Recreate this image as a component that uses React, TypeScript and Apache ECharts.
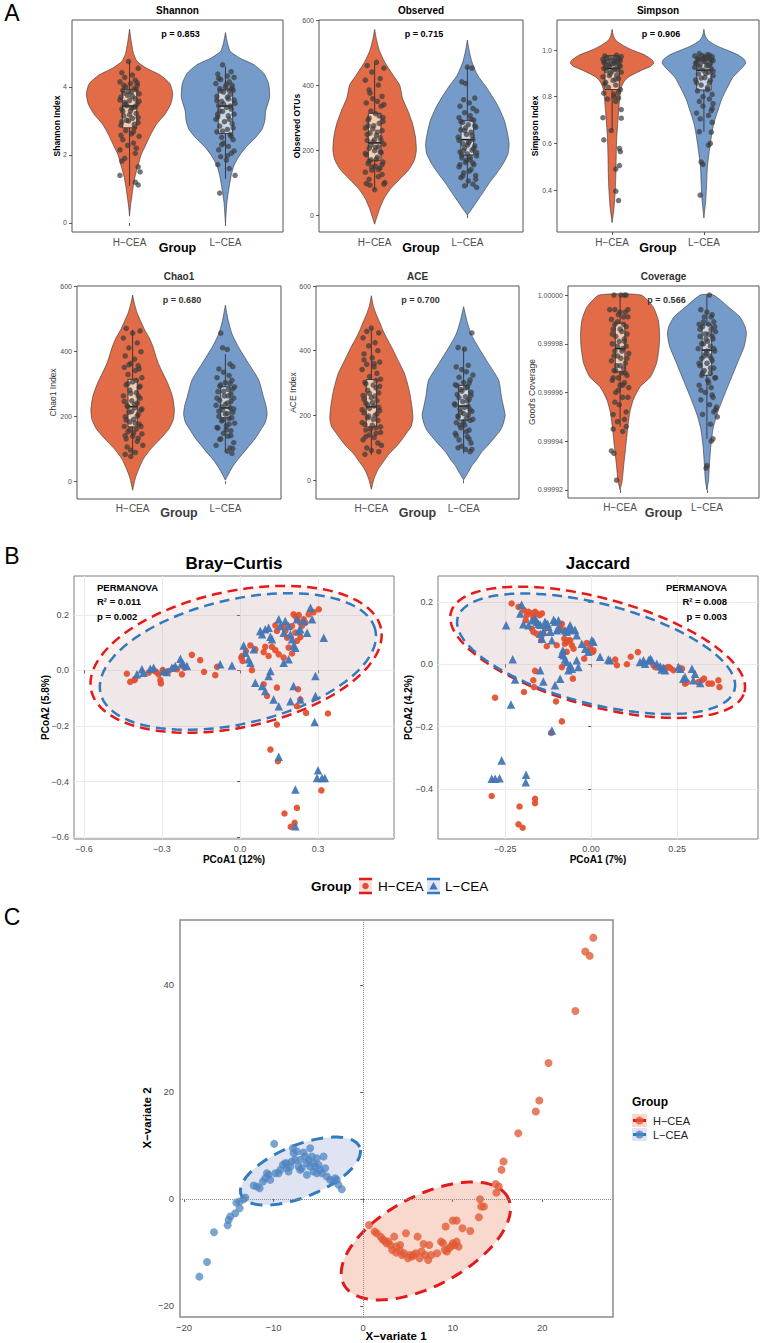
import React, { useEffect, useRef } from "react";
import * as echarts from "echarts";

type P = [number, number];

const FONT = '"Liberation Sans", Arial, Helvetica, sans-serif';

// ---------- Panel A : alpha diversity ----------
const categories = ["H−CEA", "L−CEA"];
const metricTitles = ["Shannon", "Observed", "Simpson", "Chao1", "ACE", "Coverage"];
const metricYNames = ["Shannon Index", "Observed OTUs", "Simpson Index", "Chao1 Index", "ACE Index", "Good's Coverage"];
const pValues = ["p = 0.853", "p = 0.715", "p = 0.906", "p = 0.680", "p = 0.700", "p = 0.566"];

const shannonTicks = [0, 2, 4];
const observedTicks = [0, 200, 400, 600];
const simpsonTicks = [0.4, 0.6, 0.8, 1.0];
const chao1Ticks = [0, 200, 400, 600];
const aceTicks = [0, 200, 400, 600];
const coverageTicks = [0.99992, 0.99994, 0.99996, 0.99998, 1.0];

// violin outlines: [value, half width in category units]
const shannonViolinH: P[] = [[5.7,0],[5.3,0.02],[5.0,0.04],[4.75,0.08],[4.55,0.18],[4.35,0.32],[4.1,0.42],[3.8,0.45],[3.5,0.43],[3.2,0.37],[2.9,0.28],[2.6,0.22],[2.3,0.17],[2.0,0.12],[1.7,0.09],[1.4,0.06],[1.1,0.04],[0.8,0.025],[0.5,0.01],[0.2,0]];
const shannonViolinL: P[] = [[5.6,0],[5.3,0.02],[5.05,0.05],[4.85,0.15],[4.65,0.3],[4.4,0.4],[4.1,0.45],[3.7,0.46],[3.3,0.42],[3.0,0.41],[2.75,0.38],[2.5,0.31],[2.25,0.22],[2.0,0.15],[1.7,0.09],[1.4,0.06],[1.0,0.035],[0.6,0.015],[0.0,0]];
const observedViolinH: P[] = [[571,0],[540,0.02],[507,0.05],[470,0.11],[430,0.2],[400,0.27],[360,0.3],[320,0.36],[280,0.41],[240,0.44],[200,0.45],[170,0.43],[140,0.37],[110,0.27],[80,0.17],[50,0.1],[20,0.055],[-10,0.02],[-28,0]];
const observedViolinL: P[] = [[538,0],[505,0.02],[470,0.05],[430,0.11],[395,0.2],[360,0.28],[330,0.34],[290,0.4],[255,0.43],[220,0.45],[190,0.44],[160,0.39],[130,0.32],[100,0.24],[70,0.17],[45,0.11],[20,0.05],[0,0]];
const simpsonViolinH: P[] = [[1.089,0],[1.06,0.015],[1.04,0.045],[1.02,0.12],[1.0,0.22],[0.98,0.35],[0.96,0.43],[0.945,0.455],[0.93,0.42],[0.915,0.33],[0.9,0.25],[0.885,0.18],[0.87,0.14],[0.85,0.11],[0.82,0.09],[0.78,0.08],[0.73,0.07],[0.68,0.06],[0.62,0.05],[0.55,0.045],[0.48,0.042],[0.42,0.037],[0.37,0.03],[0.32,0.02],[0.26,0]];
const simpsonViolinL: P[] = [[1.089,0],[1.06,0.015],[1.04,0.05],[1.02,0.13],[1.0,0.25],[0.98,0.37],[0.96,0.44],[0.945,0.455],[0.93,0.43],[0.91,0.38],[0.88,0.31],[0.85,0.27],[0.82,0.23],[0.786,0.19],[0.75,0.16],[0.714,0.13],[0.68,0.105],[0.643,0.087],[0.6,0.07],[0.571,0.06],[0.5,0.038],[0.43,0.03],[0.357,0.02],[0.28,0]];
const chao1ViolinH: P[] = [[572,0],[545,0.02],[516,0.05],[490,0.09],[465,0.13],[440,0.18],[413,0.22],[385,0.25],[360,0.28],[330,0.33],[300,0.38],[260,0.43],[220,0.45],[190,0.44],[160,0.39],[130,0.3],[100,0.2],[70,0.12],[40,0.07],[10,0.03],[-28,0]];
const chao1ViolinL: P[] = [[541,0],[495,0.03],[454,0.07],[413,0.14],[362,0.25],[311,0.36],[260,0.41],[230,0.44],[205,0.45],[180,0.43],[157,0.38],[130,0.32],[106,0.25],[85,0.19],[65,0.13],[45,0.08],[25,0.04],[3,0]];
const aceViolinH: P[] = [[570,0],[540,0.02],[514,0.05],[488,0.09],[463,0.125],[437,0.17],[411,0.22],[370,0.29],[329,0.36],[278,0.41],[227,0.44],[191,0.45],[165,0.43],[145,0.38],[125,0.33],[104,0.27],[84,0.2],[63,0.145],[32,0.07],[1,0.025],[-28,0]];
const aceViolinL: P[] = [[536,0],[493,0.035],[452,0.08],[411,0.16],[360,0.27],[309,0.38],[257,0.41],[230,0.43],[201,0.45],[175,0.43],[155,0.4],[130,0.33],[104,0.25],[85,0.19],[63,0.14],[45,0.09],[32,0.065],[15,0.03],[1,0]];
const coverageViolinH: P[] = [[1.0,0.24],[0.9999952,0.38],[0.9999897,0.44],[0.9999842,0.455],[0.9999788,0.45],[0.999972,0.42],[0.9999664,0.35],[0.9999623,0.23],[0.9999568,0.15],[0.9999514,0.11],[0.9999445,0.085],[0.9999377,0.065],[0.9999295,0.04],[0.999924,0.025],[0.99992,0]];
const coverageViolinL: P[] = [[1.0,0.075],[0.999995,0.25],[0.999991,0.38],[0.999987,0.44],[0.999984,0.455],[0.999979,0.43],[0.999972,0.35],[0.999965,0.27],[0.999958,0.19],[0.999951,0.115],[0.999945,0.07],[0.999938,0.045],[0.999931,0.03],[0.999924,0.018],[0.99992,0]];

// boxes: [lower whisker, q1, median, q3, upper whisker]
const shannonBoxH = [1.1, 2.8, 3.44, 3.93, 4.75];
const shannonBoxL = [1.3, 2.63, 3.44, 3.91, 4.6];
const observedBoxH = [77, 169, 222, 313, 466];
const observedBoxL = [88, 185, 232, 290, 455];
const simpsonBoxH = [0.657, 0.831, 0.921, 0.975, 0.98];
const simpsonBoxL = [0.65, 0.829, 0.914, 0.957, 0.985];
const chao1BoxH = [80, 167, 229, 313, 465];
const chao1BoxL = [90, 195, 225, 290, 390];
const aceBoxH = [78, 165, 227, 311, 468];
const aceBoxL = [83, 186, 229, 293, 411];
const coverageBoxH = [0.999946, 0.9999685, 0.999978, 0.9999884, 1.0];
const coverageBoxL = [0.999941, 0.9999671, 0.9999774, 0.9999877, 1.0];

// jittered samples: [horizontal jitter, value]
const shannonPointsH: P[] = [[-0.01,4.75],[0.09,4.55],[-0.08,4.42],[0.03,4.35],[-0.05,4.28],[0.06,4.2],[-0.1,4.15],[0.01,4.1],[0.08,4.05],[-0.04,4.0],[0.05,3.95],[-0.07,3.9],[0.02,3.85],[0.1,3.8],[-0.02,3.75],[-0.09,3.7],[0.06,3.65],[0.0,3.6],[-0.05,3.55],[0.08,3.5],[-0.03,3.45],[0.04,3.4],[-0.08,3.35],[0.01,3.3],[0.07,3.22],[-0.06,3.15],[0.03,3.08],[-0.01,3.0],[0.09,2.95],[-0.09,2.88],[0.05,2.8],[-0.04,2.72],[0.02,2.62],[0.1,2.55],[-0.07,2.45],[0.04,2.35],[-0.02,2.28],[-0.1,2.15],[0.06,2.05],[-0.05,1.9],[-0.08,1.82],[0.09,1.65],[0.11,1.5],[-0.1,1.4],[0.06,1.2],[0.09,1.12],[0.07,3.92],[-0.06,3.82],[0.03,3.72],[-0.1,3.62],[0.1,3.58],[-0.04,3.5],[0.06,3.42],[-0.07,3.28],[0.0,3.18],[0.09,3.1],[-0.03,3.02],[0.05,2.9],[-0.08,2.98],[0.02,3.38],[-0.01,3.86],[0.08,4.12],[-0.06,4.05],[0.04,2.68],[-0.09,2.58],[0.07,2.2]];
const shannonPointsL: P[] = [[-0.03,4.65],[0.06,4.45],[-0.08,4.38],[0.02,4.32],[0.09,4.28],[-0.05,4.22],[0.04,4.15],[-0.1,4.1],[0.07,4.05],[0.0,4.0],[-0.06,3.95],[0.08,3.9],[-0.02,3.85],[0.05,3.78],[-0.09,3.72],[0.03,3.65],[-0.04,3.58],[0.1,3.52],[-0.07,3.45],[0.01,3.4],[0.06,3.35],[-0.03,3.28],[0.09,3.2],[-0.08,3.12],[0.04,3.05],[-0.01,2.98],[0.07,2.92],[-0.06,2.85],[0.02,2.75],[-0.09,2.68],[0.05,2.6],[-0.04,2.52],[0.08,2.45],[-0.02,2.35],[0.03,2.25],[-0.07,2.15],[0.06,2.05],[-0.05,1.95],[0.01,1.85],[-0.08,1.72],[0.04,1.6],[0.1,1.4],[-0.06,0.88],[0.07,3.96],[-0.05,3.88],[0.02,3.7],[-0.09,3.6],[0.09,3.62],[-0.02,3.5],[0.05,3.44],[-0.06,3.3],[0.03,3.15],[-0.1,3.05],[0.08,2.8],[-0.03,2.7],[0.01,4.08],[-0.07,4.25],[0.06,2.55],[-0.04,2.3],[0.09,2.12],[0.02,1.98],[-0.08,3.2],[0.04,3.9]];
const observedPointsH: P[] = [[0.02,470],[-0.08,460],[0.1,452],[-0.03,440],[0.06,420],[-0.1,415],[0.04,400],[-0.06,385],[0.08,365],[-0.02,358],[0.03,350],[-0.09,345],[0.07,335],[-0.04,320],[0.01,312],[0.09,300],[-0.07,292],[0.05,282],[-0.01,275],[-0.1,268],[0.08,260],[-0.05,252],[0.02,245],[0.06,238],[-0.08,230],[-0.02,225],[0.1,218],[0.04,210],[-0.06,205],[0.0,198],[0.07,192],[-0.09,185],[0.03,178],[-0.04,170],[0.09,163],[-0.07,158],[0.01,150],[0.06,145],[-0.03,138],[-0.1,132],[0.08,125],[0.04,118],[-0.06,110],[0.11,100],[-0.09,97],[-0.05,92],[0.1,95],[0.0,78],[0.05,305],[-0.06,298],[0.09,288],[-0.02,265],[0.03,255],[-0.08,248],[0.07,228],[-0.04,215],[0.01,208],[0.06,195],[-0.1,190],[0.02,172],[-0.06,165],[0.08,155],[-0.03,148],[0.04,140],[0.0,232],[-0.07,275],[0.1,340],[-0.05,375]];
const observedPointsL: P[] = [[0.0,455],[0.05,452],[-0.06,410],[-0.02,405],[0.08,360],[-0.04,355],[0.02,345],[-0.08,335],[0.06,328],[0.1,320],[-0.03,315],[0.03,306],[-0.09,300],[0.07,292],[-0.05,285],[0.01,278],[0.09,270],[-0.07,262],[0.04,255],[-0.01,248],[-0.1,240],[0.06,233],[0.02,226],[-0.05,220],[0.08,213],[-0.03,207],[0.05,200],[-0.08,194],[0.0,188],[0.1,182],[-0.06,176],[0.03,170],[-0.02,162],[0.07,155],[-0.09,148],[0.04,140],[-0.04,130],[0.09,122],[-0.07,115],[0.01,105],[0.06,95],[-0.03,90],[0.1,85],[0.04,295],[-0.07,288],[0.08,275],[-0.02,268],[0.05,245],[-0.09,230],[0.01,222],[0.07,205],[-0.04,198],[0.1,192],[-0.06,185],[0.03,178],[-0.01,168],[0.06,160],[-0.08,155],[0.02,135],[-0.05,120],[0.09,110],[0.0,215],[-0.03,260]];
const simpsonPointsH: P[] = [[-0.08,0.975],[0.05,0.978],[0.1,0.972],[-0.03,0.968],[0.07,0.965],[-0.1,0.96],[0.02,0.958],[0.09,0.955],[-0.05,0.952],[0.04,0.948],[-0.08,0.945],[0.0,0.94],[0.08,0.937],[-0.03,0.932],[0.06,0.928],[-0.09,0.922],[0.03,0.918],[-0.06,0.912],[0.1,0.905],[-0.02,0.9],[0.05,0.893],[-0.1,0.885],[0.07,0.878],[0.01,0.87],[-0.07,0.862],[0.04,0.85],[-0.04,0.84],[0.09,0.83],[-0.09,0.815],[0.02,0.8],[0.07,0.795],[-0.05,0.79],[0.04,0.78],[0.1,0.745],[-0.1,0.71],[0.1,0.708],[-0.01,0.655],[-0.09,0.615],[0.08,0.578],[0.09,0.565],[0.08,0.505],[0.04,0.49],[0.04,0.395],[0.07,0.355],[0.03,0.97],[-0.06,0.965],[0.08,0.962],[-0.01,0.955],[0.05,0.95],[-0.09,0.948],[0.02,0.943],[-0.04,0.935],[0.09,0.93],[-0.07,0.925],[0.06,0.915],[0.0,0.91],[-0.03,0.89],[0.04,0.875],[-0.08,0.855],[0.07,0.82],[0.02,0.81]];
const simpsonPointsL: P[] = [[-0.05,0.985],[0.04,0.98],[-0.1,0.975],[0.09,0.972],[0.0,0.968],[-0.07,0.965],[0.06,0.962],[-0.03,0.958],[0.1,0.955],[0.02,0.95],[-0.08,0.946],[0.07,0.942],[-0.04,0.938],[0.03,0.932],[-0.1,0.926],[0.08,0.92],[-0.01,0.914],[0.05,0.905],[-0.06,0.898],[0.1,0.89],[0.01,0.882],[-0.09,0.872],[0.06,0.86],[-0.03,0.85],[0.04,0.84],[-0.07,0.825],[0.09,0.81],[-0.01,0.8],[0.06,0.79],[-0.05,0.78],[0.1,0.77],[0.08,0.74],[-0.08,0.73],[0.05,0.72],[-0.04,0.705],[0.09,0.69],[-0.05,0.65],[0.08,0.648],[0.07,0.6],[0.05,0.592],[-0.03,0.52],[-0.01,0.51],[-0.04,0.378],[0.06,0.978],[-0.02,0.976],[0.03,0.97],[-0.06,0.96],[0.08,0.958],[0.0,0.952],[-0.09,0.944],[0.05,0.935],[-0.05,0.928],[0.1,0.91],[0.02,0.9],[-0.03,0.88],[0.07,0.87],[-0.08,0.86],[0.04,0.83],[-0.01,0.76],[0.09,0.75]];
const chao1PointsH: P[] = [[-0.07,470],[0.08,462],[0.0,455],[-0.1,440],[0.05,425],[-0.04,410],[0.09,398],[-0.08,385],[0.02,375],[-0.02,362],[0.06,355],[-0.09,350],[0.03,340],[-0.05,328],[0.1,318],[0.0,305],[-0.07,296],[0.07,288],[-0.03,280],[0.04,272],[-0.1,262],[0.08,255],[-0.01,247],[0.05,240],[-0.06,232],[0.02,225],[0.09,218],[-0.04,212],[0.06,205],[-0.08,198],[0.01,190],[-0.03,182],[0.07,175],[-0.09,168],[0.04,160],[-0.05,152],[0.1,145],[0.0,138],[-0.07,130],[0.05,122],[0.11,110],[-0.06,105],[-0.02,95],[0.03,88],[-0.08,82],[-0.02,76],[0.04,310],[-0.05,300],[0.08,292],[-0.02,270],[0.06,262],[-0.09,245],[0.02,236],[-0.05,228],[0.1,222],[-0.01,214],[0.05,200],[-0.07,188],[0.03,178],[0.09,168],[-0.03,158],[0.01,148],[-0.08,140],[0.06,132],[-0.04,358],[0.07,345]];
const chao1PointsL: P[] = [[-0.05,455],[-0.03,410],[0.02,405],[0.05,360],[0.08,352],[-0.07,345],[-0.02,335],[0.04,325],[-0.09,318],[0.07,310],[0.0,303],[-0.05,296],[0.1,290],[0.03,282],[-0.08,275],[0.06,268],[-0.01,262],[0.09,255],[-0.06,248],[0.02,240],[-0.1,233],[0.05,226],[-0.03,219],[0.08,212],[0.0,206],[-0.07,199],[0.04,192],[-0.04,185],[0.1,178],[0.01,170],[-0.08,163],[0.06,155],[-0.02,147],[0.03,138],[-0.06,128],[0.09,118],[-0.1,110],[0.05,102],[0.02,92],[0.07,85],[0.05,300],[-0.06,292],[0.08,284],[-0.02,276],[0.03,262],[-0.09,255],[0.06,245],[0.0,236],[-0.04,228],[0.09,222],[-0.07,215],[0.02,208],[0.07,195],[-0.03,188],[0.04,175],[-0.09,165],[0.01,158],[0.06,140],[-0.05,130],[0.08,100]];
const acePointsH: P[] = [[0.0,470],[-0.05,460],[0.08,455],[-0.09,440],[0.04,425],[-0.03,415],[0.07,400],[-0.08,390],[0.01,378],[0.09,365],[-0.05,358],[0.03,350],[-0.1,342],[0.06,330],[-0.02,320],[0.1,312],[-0.07,302],[0.02,294],[0.05,285],[-0.04,278],[0.08,270],[-0.09,262],[0.0,255],[0.06,246],[-0.06,238],[0.03,230],[-0.02,222],[0.09,215],[-0.08,208],[0.04,200],[-0.04,193],[0.07,185],[-0.1,178],[0.01,170],[0.05,162],[-0.06,155],[0.1,148],[-0.02,140],[0.03,132],[-0.09,125],[0.07,115],[0.11,108],[-0.05,100],[0.0,92],[0.08,88],[-0.07,80],[0.05,308],[-0.06,298],[0.09,290],[-0.02,268],[0.04,260],[-0.08,250],[0.01,240],[-0.04,232],[0.08,225],[-0.1,218],[0.06,205],[-0.03,198],[0.02,188],[-0.07,172],[0.1,165],[-0.01,158],[0.05,145],[-0.06,135],[0.03,360],[-0.08,372]];
const acePointsL: P[] = [[0.09,455],[-0.06,410],[0.01,405],[0.05,355],[-0.08,350],[-0.02,342],[0.03,335],[0.1,325],[-0.05,318],[0.07,310],[0.0,302],[-0.09,295],[0.04,288],[-0.03,280],[0.08,272],[-0.07,265],[0.02,258],[0.06,250],[-0.01,243],[-0.1,236],[0.05,228],[-0.04,220],[0.09,213],[0.0,206],[-0.06,199],[0.03,192],[0.07,185],[-0.08,178],[0.01,170],[-0.03,162],[0.06,155],[-0.09,145],[0.04,135],[-0.05,125],[0.08,115],[-0.02,105],[0.02,95],[0.07,88],[-0.06,100],[0.06,300],[-0.07,292],[0.02,285],[-0.02,275],[0.08,262],[-0.05,255],[0.04,245],[-0.09,232],[0.01,225],[0.07,218],[-0.03,210],[0.05,202],[-0.06,195],[0.1,188],[0.0,180],[-0.04,170],[0.03,150],[-0.08,138],[0.06,128],[0.09,95]];
const coveragePointsH: P[] = [[-0.07,1.0],[0.01,1.0],[0.05,1.0],[0.07,1.0],[-0.12,0.999994],[-0.06,0.999994],[0.0,0.999993],[0.06,0.999993],[0.09,0.999991],[-0.1,0.99999],[-0.03,0.999989],[0.04,0.999988],[-0.08,0.999986],[0.02,0.999985],[0.08,0.999984],[-0.05,0.999983],[0.05,0.999982],[-0.01,0.999981],[-0.09,0.99998],[0.07,0.999979],[0.03,0.999978],[-0.06,0.999977],[0.1,0.999976],[-0.03,0.999975],[0.01,0.999974],[-0.1,0.999973],[0.06,0.999972],[-0.04,0.999971],[0.04,0.99997],[-0.07,0.999969],[0.02,0.999968],[0.08,0.999967],[-0.02,0.999966],[-0.09,0.999965],[0.05,0.999964],[0.0,0.999963],[0.1,0.999962],[-0.05,0.99996],[0.03,0.999958],[-0.01,0.999955],[0.07,0.999952],[-0.08,0.999951],[0.05,0.999949],[-0.03,0.999948],[0.07,0.999946],[-0.08,0.999945],[0.03,0.999944],[-0.1,0.999936],[-0.07,0.999935],[-0.04,0.999924],[0.09,0.999994],[-0.02,0.999992],[0.04,0.999991],[-0.06,0.999988],[0.07,0.999987],[0.0,0.999986],[-0.09,0.999984],[0.05,0.999981],[-0.03,0.999979],[0.02,0.999977],[-0.07,0.999975],[0.08,0.999974],[0.0,0.999971],[-0.05,0.999969],[0.06,0.999968],[-0.08,0.999966],[0.03,0.999963],[-0.02,0.999961],[0.09,0.999958],[-0.06,0.999956]];
const coveragePointsL: P[] = [[0.03,1.0],[-0.07,0.999994],[0.0,0.999993],[0.06,0.999992],[-0.03,0.999991],[0.08,0.999989],[-0.09,0.999988],[0.02,0.999988],[-0.05,0.999987],[0.05,0.999986],[0.1,0.999985],[-0.02,0.999984],[-0.08,0.999983],[0.07,0.999982],[0.01,0.999981],[-0.04,0.99998],[0.04,0.999979],[-0.1,0.999978],[0.09,0.999977],[-0.01,0.999976],[0.03,0.999975],[-0.06,0.999974],[0.06,0.999973],[0.0,0.999972],[-0.08,0.999971],[0.08,0.99997],[-0.03,0.999969],[0.04,0.999968],[-0.06,0.999967],[0.1,0.999966],[0.01,0.999965],[-0.09,0.999963],[0.05,0.999962],[-0.02,0.99996],[0.07,0.999958],[-0.07,0.999957],[0.03,0.999955],[0.1,0.999953],[0.08,0.999952],[-0.05,0.999951],[0.12,0.99995],[0.04,0.999947],[0.05,0.99994],[0.07,0.999941],[0.0,0.99993],[-0.01,0.999929],[0.05,0.999991],[-0.04,0.999989],[0.09,0.999987],[-0.08,0.999986],[0.02,0.999984],[0.06,0.999983],[-0.01,0.999982],[-0.06,0.99998],[0.08,0.999978],[0.0,0.999977],[-0.03,0.999975],[0.05,0.999974],[-0.09,0.999972],[0.04,0.99997],[-0.05,0.999968],[0.09,0.999966],[0.02,0.999964],[-0.07,0.999961],[0.06,0.999959],[0.11,0.999954]];

// ---------- Panel B : PCoA ----------
const brayStats = ["PERMANOVA", "R² = 0.011", "p = 0.002"];
const jaccardStats = ["PERMANOVA", "R² = 0.008", "p = 0.003"];
const brayXTicks = [-0.6, -0.3, 0, 0.3];
const brayYTicks = [-0.6, -0.4, -0.2, 0, 0.2];
const jaccardXTicks = [-0.25, 0, 0.25];
const jaccardYTicks = [-0.4, -0.2, 0, 0.2];

const brayH: P[] = [[-0.435,-0.012],[-0.422,-0.041],[-0.406,-0.035],[-0.403,-0.03],[-0.351,-0.008],[-0.332,0],[-0.322,-0.005],[-0.313,-0.014],[-0.306,-0.035],[-0.304,-0.047],[-0.297,0.001],[-0.287,-0.008],[-0.274,-0.002],[-0.251,0.01],[-0.242,0.004],[-0.223,-0.014],[-0.213,0.01],[-0.185,0.056],[-0.153,0.037],[-0.138,-0.005],[-0.088,0.013],[-0.095,-0.017],[0.005,0.046],[0.01,0.034],[0.008,0.052],[0.023,0.07],[0.04,0.09],[0.046,0.001],[0.059,0.076],[0.097,0.085],[0.091,0.066],[0.11,0.052],[0.123,0.085],[0.136,0.073],[0.149,0.058],[0.168,0.046],[0.187,0.082],[0.2,0.061],[0.219,0.106],[0.232,0.12],[0.213,0.136],[0.136,0.162],[0.142,0.142],[0.168,0.16],[0.174,0.142],[0.181,0.118],[0.2,0.16],[0.206,0.202],[0.213,0.196],[0.219,0.186],[0.226,0.199],[0.232,0.172],[0.238,0.16],[0.245,0.184],[0.251,0.172],[0.264,0.202],[0.283,0.21],[0.303,0.22],[0.091,-0.05],[0.104,-0.092],[0.142,-0.062],[0.223,-0.068],[0.232,-0.105],[0.219,-0.129],[0.254,-0.153],[0.338,-0.155],[0.142,-0.195],[0.117,-0.285],[0.146,-0.327],[0.313,-0.432],[0.171,-0.515],[0.219,-0.495],[0.21,-0.549],[0.195,-0.563]];
const brayL: P[] = [[-0.396,-0.014],[-0.377,0.004],[-0.371,-0.008],[-0.345,0.006],[-0.332,0.01],[-0.294,-0.002],[-0.281,-0.006],[-0.262,0.01],[-0.249,0.016],[-0.229,0.042],[-0.223,0.028],[-0.217,0.022],[-0.204,0.016],[-0.076,0.022],[-0.031,0.018],[0.014,0.09],[0.021,0.064],[0.033,0.04],[0.04,0.028],[0.053,0.076],[0.078,0.142],[0.085,0.13],[0.097,0.148],[0.11,0.154],[0.117,0.121],[0.123,0.112],[0.149,0.184],[0.155,0.16],[0.174,0.178],[0.168,0.136],[0.187,0.16],[0.194,0.13],[0.2,0.112],[0.206,0.09],[0.213,0.082],[0.219,0.184],[0.226,0.142],[0.232,0.148],[0.245,0.178],[0.258,0.136],[0.271,0.226],[0.277,0.184],[0.322,0.118],[0.059,-0.044],[0.085,-0.056],[0.097,-0.074],[0.11,-0.02],[0.117,-0.002],[0.129,-0.105],[0.149,-0.129],[0.168,0.028],[0.187,0.04],[0.206,-0.056],[0.194,-0.111],[0.232,-0.105],[0.29,-0.02],[0.29,-0.092],[0.287,-0.186],[0.149,-0.311],[0.3,-0.359],[0.296,-0.387],[0.315,-0.387],[0.326,-0.387],[0.213,-0.429],[0.213,-0.561]];
const jaccardH: P[] = [[-0.231,0.195],[-0.211,0.184],[-0.195,0.173],[-0.19,0.141],[-0.187,0.157],[-0.182,0.168],[-0.172,0.163],[-0.168,0.152],[-0.163,0.168],[-0.158,0.163],[-0.15,0.157],[-0.143,0.163],[-0.172,0.114],[-0.168,0.104],[-0.158,0.098],[-0.145,0.077],[-0.139,0.098],[-0.134,0.114],[-0.129,0.058],[-0.09,0.12],[-0.085,0.13],[-0.082,0.109],[-0.078,0.082],[-0.076,0.066],[-0.071,0.072],[-0.066,0.077],[-0.061,0.077],[-0.056,0.061],[-0.051,0.05],[-0.1,0.061],[-0.071,0.04],[-0.02,0.018],[-0.013,0.068],[-0.003,0.053],[0.005,0.04],[0.007,0.045],[0.07,0.015],[0.075,-0.003],[0.104,0],[0.115,0.024],[0.136,0.039],[0.181,-0.003],[0.186,-0.009],[0.201,-0.011],[0.218,-0.011],[0.225,-0.009],[0.23,-0.012],[0.239,-0.019],[0.264,-0.014],[0.273,-0.062],[0.278,-0.057],[0.312,-0.057],[0.322,-0.051],[0.328,-0.046],[0.341,-0.062],[0.351,-0.062],[0.37,-0.051],[0.373,-0.073],[-0.163,-0.021],[-0.168,-0.051],[-0.166,-0.073],[-0.195,-0.089],[-0.279,-0.107],[-0.102,-0.119],[-0.085,-0.183],[-0.116,-0.22],[-0.053,-0.046],[-0.085,-0.009],[-0.289,-0.422],[-0.208,-0.456],[-0.211,-0.513],[-0.199,-0.524],[-0.163,-0.431],[-0.163,-0.445]];
const jaccardL: P[] = [[-0.247,0.125],[-0.228,0.016],[-0.221,-0.049],[-0.233,-0.129],[-0.202,0.191],[-0.206,0.163],[-0.197,0.128],[-0.182,0.125],[-0.172,0.141],[-0.163,0.147],[-0.158,0.136],[-0.153,0.13],[-0.148,0.127],[-0.139,0.104],[-0.134,0.136],[-0.127,0.13],[-0.148,0.098],[-0.143,0.082],[-0.124,0.12],[-0.119,0.104],[-0.114,0.077],[-0.109,0.143],[-0.105,0.136],[-0.1,0.109],[-0.095,0.141],[-0.092,0.114],[-0.085,0.034],[-0.082,0.045],[-0.076,0.109],[-0.071,0.104],[-0.066,0.114],[-0.061,0.125],[-0.056,0.109],[-0.047,0.111],[-0.042,0.093],[-0.08,0.029],[-0.076,0.015],[-0.071,0.007],[-0.066,-0.019],[-0.061,-0.003],[-0.056,-0.014],[-0.042,0.013],[-0.037,-0.009],[-0.027,0.066],[-0.017,0.05],[-0.008,0.04],[0.002,0.077],[0.007,0.072],[0.026,0.024],[0.05,0.015],[0.055,0.013],[0.142,0.007],[0.152,0.013],[0.157,0.002],[0.167,0.013],[0.172,0.018],[0.176,0.013],[0.191,0.002],[0.201,-0.006],[0.205,-0.017],[0.21,-0.011],[0.215,-0.019],[0.254,-0.009],[0.259,-0.014],[0.268,-0.046],[0.273,-0.041],[0.293,-0.014],[0.297,-0.051],[0.302,-0.03],[0.317,-0.06],[-0.148,-0.019],[-0.139,-0.055],[-0.105,-0.067],[-0.09,-0.046],[-0.114,-0.212],[-0.26,-0.308],[-0.289,-0.367],[-0.279,-0.367],[-0.266,-0.365],[-0.189,-0.354],[-0.19,-0.378]];

// ellipses: [cx, cy, u_x, u_y, v_x, v_y] (centre and conjugate semi-axes)
const brayEllipseH = [-0.015, 0.04, 0.557, 0.111, -0.054, 0.24];
const brayEllipseL = [-0.008, 0.032, 0.528, 0.114, -0.054, 0.218];
const jaccardEllipseH = [0.019, 0.0385, 0.4264, -0.128, 0.0412, 0.167];
const jaccardEllipseL = [0.0145, 0.0337, 0.4024, -0.1149, 0.0364, 0.1553];

// ---------- Panel C : PLS-DA ----------
const plsXTicks = [-20, -10, 0, 10, 20];
const plsYTicks = [-20, 0, 20, 40];
const plsH: P[] = [[25.7,48.8],[24.8,46.2],[25.3,45.4],[23.7,35.1],[20.7,25.4],[19.67,18.38],[19.28,16.32],[17.32,12.27],[15.67,6.98],[15.45,5.42],[14.8,2.8],[15.14,2.31],[14.88,1.18],[13.05,-0.06],[13.18,-1.43],[13.48,-1.43],[12.92,-3.43],[10.01,-4.05],[10.44,-4.05],[9.22,-5.17],[11.09,-5.48],[11.96,-5.98],[0.64,-4.86],[1.29,-6.11],[1.51,-6.42],[1.95,-7.04],[2.16,-7.54],[2.38,-7.79],[2.6,-8.29],[3.03,-8.6],[3.47,-7.04],[3.25,-9.53],[3.69,-10.03],[4.12,-9.66],[4.56,-10.16],[4.78,-6.42],[5.21,-10.47],[5.43,-10.78],[5.87,-10.16],[6.08,-7.04],[6.3,-11.09],[6.74,-8.41],[6.95,-10.47],[7.26,-11.4],[7.39,-8.6],[7.61,-10.47],[8.26,-10.16],[8.7,-7.98],[8.92,-8.29],[9.13,-9.53],[9.35,-9.84],[9.57,-9.22],[9.79,-8.91],[10.01,-8.29],[10.22,-8.6],[10.44,-7.98],[10.66,-8.91],[4.34,-10.47],[5.0,-11.09],[5.65,-10.47],[6.52,-9.84],[2.82,-7.98],[3.69,-8.91],[4.12,-8.6]];
const plsL: P[] = [[-18.29,-14.52],[-17.43,-11.78],[-16.65,-6.23],[-15.13,-4.92],[-15.02,-3.93],[-14.83,-3.3],[-14.28,-2.68],[-13.79,-1.74],[-14.16,-0.69],[-13.79,-0.5],[-13.35,-0.06],[-13.16,0.25],[-12.23,2.49],[-11.86,2.31],[-11.56,1.99],[-11.19,3.24],[-10.93,3.86],[-10.74,4.8],[-10.56,4.49],[-10.37,3.55],[-9.93,10.28],[-9.81,4.8],[-9.44,4.8],[-9.26,5.42],[-8.96,6.36],[-8.7,6.67],[-8.51,5.73],[-8.33,5.11],[-8.14,6.04],[-7.84,9.47],[-7.77,8.54],[-7.58,7.29],[-7.4,8.85],[-7.21,6.04],[-7.03,5.42],[-6.84,5.73],[-6.65,8.66],[-6.47,7.91],[-6.28,6.67],[-6.1,7.29],[-5.91,9.47],[-5.72,7.91],[-5.54,6.67],[-5.35,6.04],[-5.17,7.6],[-4.98,6.36],[-4.8,5.42],[-4.61,4.8],[-4.42,7.91],[-4.24,5.73],[-4.05,4.17],[-3.68,3.55],[-3.31,3.24],[-2.94,3.55],[-2.75,2.62],[-2.38,1.81],[-5.54,5.11],[-5.91,6.04],[-7.03,7.29],[-7.96,6.98],[-8.51,6.67],[-6.28,4.49],[-5.17,4.8],[-3.12,3.86]];
const plsEllipseH = [7.0, -7.85, 9.15, 8.15, -2.35, 7.42];
const plsEllipseL = [-7.0, 5.2, 6.61, 4.48, -1.09, 4.5];

// ---------- styling ----------
const violinColors = ["#E26C48", "#759BCB"];
const boxFills = ["#F6CBB2", "#CCD8EC"];
const pcoaPointColors = ["#E4502F", "#4276B5"];
const ellipseStroke = ["#E31A1C", "#2F7BBF"];

const ident = (v: number) => v;
const covT = (v: number) => (v - 0.99992) * 1e5;
const minus = (s: string) => s.replace("-", "−");

const violinPanels: any[] = [
  { rect: [72, 20, 211, 212], yMin: -0.265, yMax: 5.97, ticks: shannonTicks, fmt: (v: number) => String(v), tf: ident, violins: [shannonViolinH, shannonViolinL], boxes: [shannonBoxH, shannonBoxL], points: [shannonPointsH, shannonPointsL], boxHW: 0.075, yTitleX: 57, row: 0 },
  { rect: [319, 20, 204, 212], yMin: -52, yMax: 600, ticks: observedTicks, fmt: (v: number) => String(v), tf: ident, violins: [observedViolinH, observedViolinL], boxes: [observedBoxH, observedBoxL], points: [observedPointsH, observedPointsL], boxHW: 0.068, yTitleX: 297, row: 0 },
  { rect: [557, 20, 202, 212], yMin: 0.22, yMax: 1.129, ticks: simpsonTicks, fmt: (v: number) => v.toFixed(1), tf: ident, violins: [simpsonViolinH, simpsonViolinL], boxes: [simpsonBoxH, simpsonBoxL], points: [simpsonPointsH, simpsonPointsL], boxHW: 0.078, yTitleX: 535, row: 0 },
  { rect: [77, 286, 204, 213], yMin: -55, yMax: 600, ticks: chao1Ticks, fmt: (v: number) => String(v), tf: ident, violins: [chao1ViolinH, chao1ViolinL], boxes: [chao1BoxH, chao1BoxL], points: [chao1PointsH, chao1PointsL], boxHW: 0.05, yTitleX: 53, row: 1 },
  { rect: [316, 286, 203, 213], yMin: -58, yMax: 600, ticks: aceTicks, fmt: (v: number) => String(v), tf: ident, violins: [aceViolinH, aceViolinL], boxes: [aceBoxH, aceBoxL], points: [acePointsH, acePointsL], boxHW: 0.055, yTitleX: 293, row: 1 },
  { rect: [568, 286, 191, 212], yMin: -0.33, yMax: 8.37, ticks: coverageTicks, fmt: (v: number) => (0.99992 + v * 1e-5).toFixed(5), tf: covT, violins: [coverageViolinH, coverageViolinL], boxes: [coverageBoxH, coverageBoxL], points: [coveragePointsH, coveragePointsL], boxHW: 0.055, yTitleX: 532, row: 1 },
];

function txt(text: string, x: number, y: number, size: number, o: any = {}) {
  return {
    type: "text", x, y, rotation: o.rot || 0, silent: true, z: 50,
    style: {
      text, fill: o.color || "#000", fontSize: size, fontWeight: o.bold ? "bold" : "normal", fontFamily: FONT,
      align: o.align || "center", textAlign: o.align || "center", verticalAlign: "middle", textVerticalAlign: "middle",
    },
  };
}

function ellipseSeries(gi: number, e: number[], stroke: string, fill: string, lw: number, dash: number[]) {
  return {
    type: "custom", xAxisIndex: gi, yAxisIndex: gi, silent: true, z: 2, clip: false,
    data: [[e[0], e[1]]],
    renderItem: (_p: any, api: any) => {
      const pts: number[][] = [];
      for (let k = 0; k <= 144; k++) {
        const t = (k / 144) * Math.PI * 2;
        pts.push(api.coord([e[0] + e[2] * Math.cos(t) + e[4] * Math.sin(t), e[1] + e[3] * Math.cos(t) + e[5] * Math.sin(t)]));
      }
      return { type: "polygon", shape: { points: pts }, style: { fill, stroke, lineWidth: lw, lineDash: dash } };
    },
  };
}

function valueAxis(gi: number, min: number, max: number, ticks: number[], fmt: any, o: any = {}) {
  return {
    type: "value", gridIndex: gi, min, max,
    axisLine: { show: false },
    splitLine: { show: !!o.split, lineStyle: { color: "#ebebeb", width: 1 } },
    axisTick: { show: true, customValues: ticks, length: 3, lineStyle: { color: "#333", width: 0.8 } },
    axisLabel: { customValues: ticks, formatter: fmt, fontSize: o.fs || 9, margin: o.margin || 5, color: o.color || "#4d4d4d", fontFamily: FONT },
  };
}

function buildOption() {
  const grid: any[] = [], xAxis: any[] = [], yAxis: any[] = [], series: any[] = [], graphic: any[] = [];

  // ---- Panel A ----
  violinPanels.forEach((p, gi) => {
    const [l, t, w, h] = p.rect;
    const cx = l + w / 2;
    grid.push({ left: l, top: t, width: w, height: h, show: true, borderColor: "#555", borderWidth: 1, outerBoundsMode: "none" });
    xAxis.push(valueAxis(gi, 0.4, 2.6, [1, 2], (v: number) => categories[Math.round(v) - 1], { fs: 10, margin: p.row === 0 ? 5 : 4 }));
    yAxis.push(valueAxis(gi, p.yMin, p.yMax, p.ticks.map(p.tf), p.fmt, { fs: 7, margin: 5 }));

    series.push({
      type: "custom", xAxisIndex: gi, yAxisIndex: gi, silent: true, z: 1, clip: false,
      data: p.violins.map((_v: any, k: number) => [k + 1, p.tf(p.boxes[k][2])]),
      renderItem: (params: any, api: any) => {
        const k = params.dataIndex, c = k + 1, prof: P[] = p.violins[k];
        const right = prof.map(([y, hw]) => api.coord([c + hw, p.tf(y)]));
        const left = prof.slice().reverse().map(([y, hw]) => api.coord([c - hw, p.tf(y)]));
        return { type: "polygon", shape: { points: right.concat(left), smooth: 0.2 }, style: { fill: violinColors[k], stroke: "#333", lineWidth: 0.6 } };
      },
    });
    series.push({
      type: "custom", xAxisIndex: gi, yAxisIndex: gi, silent: true, z: 3, clip: false,
      data: p.boxes.map((b: number[], k: number) => [k + 1, p.tf(b[2])]),
      renderItem: (params: any, api: any) => {
        const k = params.dataIndex, c = k + 1, hw = p.boxHW;
        const [lo, q1, md, q3, hi] = p.boxes[k].map(p.tf);
        const a = api.coord([c - hw, q3]), b = api.coord([c + hw, q1]);
        const wl = api.coord([c, lo]), wh = api.coord([c, hi]);
        const ml = api.coord([c - hw, md]), mr = api.coord([c + hw, md]);
        return {
          type: "group", children: [
            { type: "line", shape: { x1: wl[0], y1: wl[1], x2: wh[0], y2: wh[1] }, style: { stroke: "#222", lineWidth: 0.8 } },
            { type: "rect", shape: { x: a[0], y: a[1], width: b[0] - a[0], height: b[1] - a[1] }, style: { fill: boxFills[k], stroke: "#222", lineWidth: 0.8 } },
            { type: "line", shape: { x1: ml[0], y1: ml[1], x2: mr[0], y2: mr[1] }, style: { stroke: "#111", lineWidth: 1.5 } },
          ],
        };
      },
    });
    p.points.forEach((pts: P[], k: number) => {
      series.push({
        type: "scatter", xAxisIndex: gi, yAxisIndex: gi, silent: true, z: 5, symbolSize: 5.5,
        itemStyle: { color: "#3b3b3b", opacity: 0.7 },
        data: pts.map(([dx, y]) => [k + 1 + dx, p.tf(y)]),
      });
    });

    const dark = p.row === 0 ? "#000" : "#333";
    const titleY = p.row === 0 ? 10 : 276;
    graphic.push(txt(metricTitles[gi], cx, titleY, 10, { bold: true, color: dark }));
    graphic.push(txt(pValues[gi], cx + 3, t + 14, 9, { bold: true, color: dark }));
    graphic.push(txt("Group", cx, p.row === 0 ? 248 : 513, 12.5, { bold: true, color: p.row === 0 ? "#000" : "#3c3c3c" }));
    graphic.push(txt(metricYNames[gi], p.yTitleX, t + h / 2, 8.5, { bold: p.row === 0, color: dark, rot: Math.PI / 2 }));
  });

  // ---- Panel B ----
  const pcoa = [
    { gi: 6, rect: [74, 576, 320, 263], x: [-0.638, 0.592], y: [-0.607, 0.34], xt: brayXTicks, yt: brayYTicks, xd: 1, H: brayH, L: brayL, eH: brayEllipseH, eL: brayEllipseL, title: "Bray−Curtis", xName: "PCoA1 (12%)", yName: "PCoA2 (5.8%)", yTitleX: 45, stats: brayStats, statsX: 97, statsAlign: "left" },
    { gi: 7, rect: [438, 576, 320, 263], x: [-0.445, 0.485], y: [-0.56, 0.283], xt: jaccardXTicks, yt: jaccardYTicks, xd: 2, H: jaccardH, L: jaccardL, eH: jaccardEllipseH, eL: jaccardEllipseL, title: "Jaccard", xName: "PCoA1 (7%)", yName: "PCoA2 (4.2%)", yTitleX: 408, stats: jaccardStats, statsX: 727, statsAlign: "right" },
  ];
  pcoa.forEach((q) => {
    const [l, t, w, h] = q.rect;
    const cx = l + w / 2;
    grid.push({ left: l, top: t, width: w, height: h, show: true, borderColor: "#7f7f7f", borderWidth: 1, outerBoundsMode: "none" });
    xAxis.push(valueAxis(q.gi, q.x[0], q.x[1], q.xt, (v: number) => minus(v.toFixed(q.xd)), { split: true, fs: 9, margin: 5 }));
    yAxis.push(valueAxis(q.gi, q.y[0], q.y[1], q.yt, (v: number) => minus(v.toFixed(1)), { split: true, fs: 9, margin: 5 }));
    series.push(ellipseSeries(q.gi, q.eH, ellipseStroke[0], "rgba(240,160,150,0.16)", 2.5, [10, 6]));
    series.push(ellipseSeries(q.gi, q.eL, ellipseStroke[1], "rgba(160,175,195,0.14)", 2.5, [10, 6]));
    series.push({ type: "scatter", xAxisIndex: q.gi, yAxisIndex: q.gi, silent: true, z: 4, symbol: "circle", symbolSize: 6.5, itemStyle: { color: pcoaPointColors[0], opacity: 0.95 }, data: q.H });
    series.push({ type: "scatter", xAxisIndex: q.gi, yAxisIndex: q.gi, silent: true, z: 4, symbol: "triangle", symbolSize: 8.5, itemStyle: { color: pcoaPointColors[1], opacity: 0.95 }, data: q.L });
    graphic.push(txt(q.title, cx, 563, 17, { bold: true }));
    graphic.push(txt(q.xName, cx, 859, 10, { bold: true }));
    graphic.push(txt(q.yName, q.yTitleX, t + h / 2, 10, { bold: true, rot: Math.PI / 2 }));
    q.stats.forEach((s, i) => graphic.push(txt(s, q.statsX, 587 + i * 14.5, 9.5, { bold: true, align: q.statsAlign })));
  });

  // legend for B
  graphic.push(txt("Group", 311, 886, 13.5, { bold: true, align: "left" }));
  graphic.push({ type: "rect", silent: true, shape: { x: 359, y: 879, width: 13, height: 14 }, style: { fill: "rgba(232,120,100,0.22)" } });
  graphic.push({ type: "line", silent: true, shape: { x1: 359, y1: 879, x2: 372, y2: 879 }, style: { stroke: ellipseStroke[0], lineWidth: 2.5 } });
  graphic.push({ type: "line", silent: true, shape: { x1: 359, y1: 893, x2: 372, y2: 893 }, style: { stroke: ellipseStroke[0], lineWidth: 2.5 } });
  graphic.push({ type: "circle", silent: true, shape: { cx: 365.5, cy: 886, r: 3.3 }, style: { fill: pcoaPointColors[0] } });
  graphic.push(txt(categories[0], 378, 886, 13.5, { align: "left" }));
  graphic.push({ type: "rect", silent: true, shape: { x: 427, y: 879, width: 13, height: 14 }, style: { fill: "rgba(120,150,200,0.22)" } });
  graphic.push({ type: "line", silent: true, shape: { x1: 427, y1: 879, x2: 440, y2: 879 }, style: { stroke: ellipseStroke[1], lineWidth: 2.5 } });
  graphic.push({ type: "line", silent: true, shape: { x1: 427, y1: 893, x2: 440, y2: 893 }, style: { stroke: ellipseStroke[1], lineWidth: 2.5 } });
  graphic.push({ type: "polygon", silent: true, shape: { points: [[433.5, 882], [429.3, 889.5], [437.7, 889.5]] }, style: { fill: pcoaPointColors[1] } });
  graphic.push(txt(categories[1], 445, 886, 13.5, { align: "left" }));

  // ---- Panel C ----
  const gi = 8;
  grid.push({ left: 180, top: 920, width: 433, height: 397, show: true, borderColor: "#8c8c8c", borderWidth: 1.5, outerBoundsMode: "none" });
  xAxis.push(valueAxis(gi, -20.45, 27.9, plsXTicks, (v: number) => minus(String(v)), { fs: 9.5, margin: 5 }));
  yAxis.push(valueAxis(gi, -22.06, 52.1, plsYTicks, (v: number) => minus(String(v)), { fs: 9.5, margin: 6 }));
  series.push(ellipseSeries(gi, plsEllipseH, ellipseStroke[0], "rgba(236,130,90,0.3)", 3, [12, 8]));
  series.push(ellipseSeries(gi, plsEllipseL, ellipseStroke[1], "rgba(120,140,200,0.23)", 3, [12, 8]));
  series.push({
    type: "scatter", xAxisIndex: gi, yAxisIndex: gi, silent: true, z: 4, symbolSize: 8,
    itemStyle: { color: "#E25A35", opacity: 0.78 }, data: plsH,
    markLine: { silent: true, symbol: "none", label: { show: false }, lineStyle: { type: "dotted", color: "#8a8a8a", width: 1 }, data: [{ xAxis: 0 }, { yAxis: 0 }] },
  });
  series.push({ type: "scatter", xAxisIndex: gi, yAxisIndex: gi, silent: true, z: 4, symbolSize: 8, itemStyle: { color: "#4F86C2", opacity: 0.75 }, data: plsL });
  graphic.push(txt("X−variate 1", 396, 1336, 11.5, { bold: true }));
  graphic.push(txt("X−variate 2", 147, 1118, 11.5, { bold: true, rot: Math.PI / 2 }));
  graphic.push(txt("Group", 632, 1102, 12, { bold: true, align: "left" }));
  const keyFill = ["rgba(236,130,90,0.3)", "rgba(120,140,200,0.23)"];
  const keyPt = ["#E25A35", "#4F86C2"];
  [0, 1].forEach((k) => {
    const y0 = 1114 + k * 14;
    graphic.push({ type: "rect", silent: true, shape: { x: 632, y: y0, width: 15, height: 13 }, style: { fill: keyFill[k] } });
    graphic.push({ type: "line", silent: true, shape: { x1: 633, y1: y0 + 6.5, x2: 646, y2: y0 + 6.5 }, style: { stroke: ellipseStroke[k], lineWidth: 3 } });
    graphic.push({ type: "circle", silent: true, shape: { cx: 639.5, cy: y0 + 6.5, r: 4 }, style: { fill: keyPt[k], opacity: 0.8 } });
    graphic.push(txt(categories[k], 653, y0 + 7, 11, { align: "left", color: "#222" }));
  });

  // panel letters
  graphic.push(txt("A", 12, 13, 23));
  graphic.push(txt("B", 12, 556, 23));
  graphic.push(txt("C", 12, 917, 23));

  return { animation: false, backgroundColor: "#fff", textStyle: { fontFamily: FONT }, grid, xAxis, yAxis, series, graphic };
}

export default function App() {
  const ref = useRef<HTMLDivElement>(null);
  useEffect(() => {
    document.body.style.margin = "0";
    const chart = echarts.init(ref.current as HTMLDivElement, null, { renderer: "svg" });
    chart.setOption(buildOption() as any);
    return () => chart.dispose();
  }, []);
  return <div ref={ref} style={{ width: 763, height: 1343, background: "#fff" }} />;
}
